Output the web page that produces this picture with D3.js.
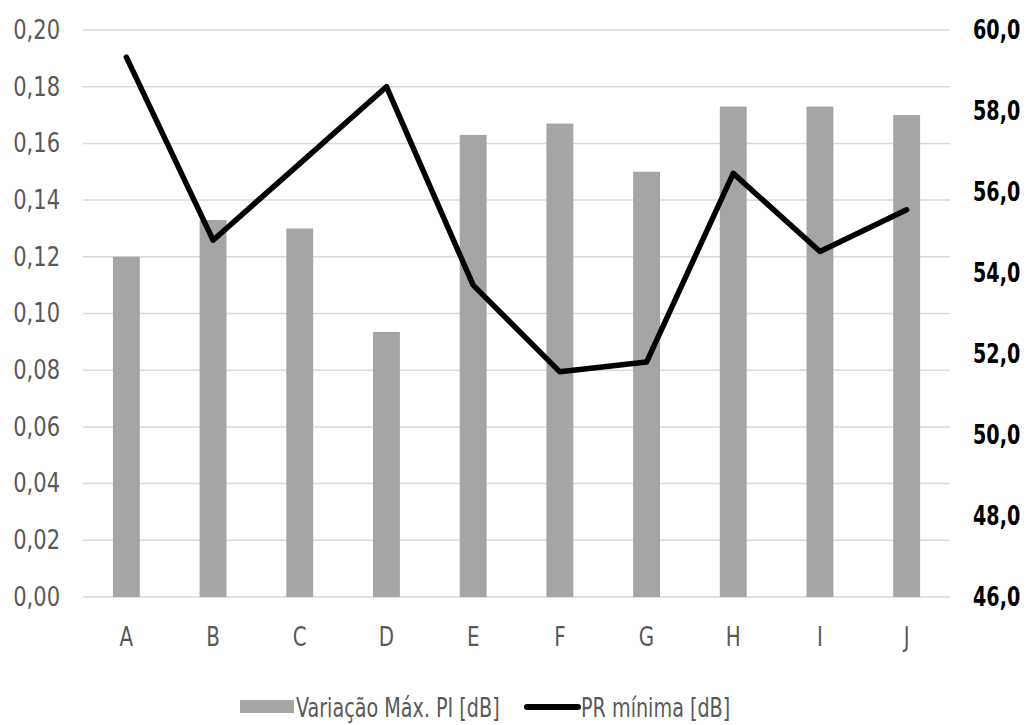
<!DOCTYPE html>
<html><head><meta charset="utf-8">
<script src="https://cdn.jsdelivr.net/npm/d3@7"></script>
<style>body{margin:0;background:#fff}svg text{font-family:"DejaVu Sans Condensed","DejaVu Sans",sans-serif}</style>
</head><body><svg id="c" width="1026" height="725"></svg>
<script>
const categories = ["A","B","C","D","E","F","G","H","I","J"];
const variacaoMaxPI = [0.120,0.133,0.130,0.0935,0.163,0.167,0.150,0.173,0.173,0.170];
const prMinima = [59.33,54.81,56.70,58.60,53.70,51.56,51.80,56.46,54.53,55.56];
const leftTicks = [0,0.02,0.04,0.06,0.08,0.10,0.12,0.14,0.16,0.18,0.20];
const rightTicks = [46,48,50,52,54,56,58,60];
const seriesNames = ["Variação Máx. PI [dB]","PR mínima [dB]"];

const svg = d3.select("#c");
const m = {l:83, r:950, t:30, b:597};
const x = d3.scaleBand().domain(categories).range([m.l,m.r]).paddingInner(0.69).paddingOuter(0.345);
const yL = d3.scaleLinear().domain([0,0.2]).range([m.b,m.t]);
const yR = d3.scaleLinear().domain([46,60]).range([m.b,m.t]);
const fmt2 = d => d.toFixed(2).replace(".",",");
const fmt1 = d => d.toFixed(1).replace(".",",");
const FS = 26;

// gridlines
svg.append("g").selectAll("line").data(leftTicks).join("line")
  .attr("x1",m.l).attr("x2",m.r).attr("y1",d=>yL(d)).attr("y2",d=>yL(d))
  .attr("stroke","#d9d9d9").attr("stroke-width",1.5);

// left axis
const sL = 0.9;
const gl = svg.append("g").attr("transform",`translate(${m.l},0)`)
  .call(d3.axisLeft(yL).tickValues(leftTicks).tickFormat(fmt2).tickSize(0));
gl.select(".domain").remove();
gl.selectAll("text").attr("font-size",FS).attr("fill","#595959")
  .attr("x",-23/sL).attr("transform",`scale(${sL},1)`);

// right axis
const sR = 0.82;
const gr = svg.append("g").attr("transform",`translate(${m.r},0)`)
  .call(d3.axisRight(yR).tickValues(rightTicks).tickFormat(fmt1).tickSize(0));
gr.select(".domain").remove();
gr.selectAll("text").attr("font-size",FS).attr("font-weight","bold").attr("fill","#000")
  .attr("x",23/sR).attr("transform",`scale(${sR},1)`);

// bars
svg.append("g").selectAll("rect").data(categories).join("rect")
  .attr("x",d=>x(d)).attr("width",x.bandwidth())
  .attr("y",(d,i)=>yL(variacaoMaxPI[i])).attr("height",(d,i)=>yL(0)-yL(variacaoMaxPI[i]))
  .attr("fill","#a5a5a5");

// x axis labels
const sX = 0.85;
const gx = svg.append("g").attr("transform",`translate(0,${m.b})`)
  .call(d3.axisBottom(x).tickSize(0).tickPadding(31));
gx.select(".domain").remove();
gx.selectAll("text").attr("font-size",FS).attr("fill","#595959")
  .attr("transform",`scale(${sX},1)`);

// line
const line = d3.line().x((d,i)=>x(categories[i])+x.bandwidth()/2).y(d=>yR(d));
svg.append("path").datum(prMinima).attr("d",line)
  .attr("fill","none").attr("stroke","#000").attr("stroke-width",5.5)
  .attr("stroke-linejoin","round").attr("stroke-linecap","round");

// legend
const sLg = 0.82;
const lg = svg.append("g");
lg.append("rect").attr("x",240).attr("y",700).attr("width",54).attr("height",13).attr("fill","#a5a5a5");
lg.append("text").attr("x",296/sLg).attr("y",717).attr("font-size",FS).attr("fill","#595959")
  .attr("transform",`scale(${sLg},1)`).text(seriesNames[0]);
lg.append("line").attr("x1",527).attr("x2",578).attr("y1",707).attr("y2",707)
  .attr("stroke","#000").attr("stroke-width",6).attr("stroke-linecap","round");
lg.append("text").attr("x",581/sLg).attr("y",717).attr("font-size",FS).attr("fill","#595959")
  .attr("transform",`scale(${sLg},1)`).text(seriesNames[1]);
</script></body></html>
